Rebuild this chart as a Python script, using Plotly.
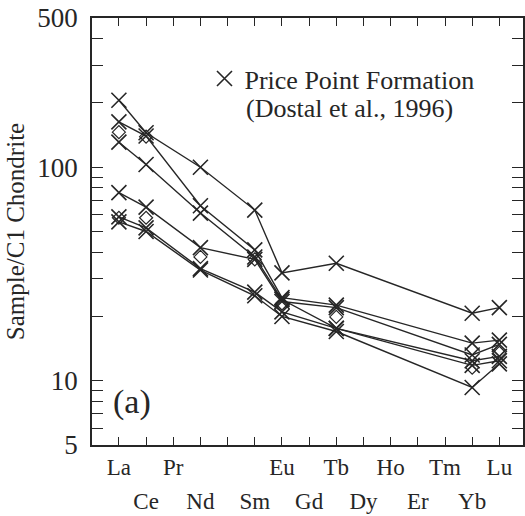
import plotly.graph_objects as go

# --- data ---------------------------------------------------------------
ELEMENTS = ["La", "Ce", "Pr", "Nd", "Pm", "Sm", "Eu", "Gd", "Tb", "Dy", "Ho", "Er", "Tm", "Yb", "Lu"]
TOP_ROW = ["La", "", "Pr", "", "", "", "Eu", "", "Tb", "", "Ho", "", "Tm", "", "Lu"]
BOTTOM_ROW = ["", "Ce", "", "Nd", "", "Sm", "", "Gd", "", "Dy", "", "Er", "", "Yb", ""]
MEASURED = ["La", "Ce", "Nd", "Sm", "Eu", "Tb", "Yb", "Lu"]

sample_1 = [206, 145, 100, 63, 32, 35.5, 20.7, 22.0]
sample_2 = [163, 140, 66, 41, 24.5, 22.6, 15.0, 15.5]
sample_3 = [131, 103, 61, 38, 24.0, 17.6, 12.4, 13.0]
sample_4 = [76, 65, 42, 37, 23.5, 22.0, 13.2, 14.8]
sample_5 = [58.5, 52, 33.5, 26, 21.0, 17.6, 11.8, 12.4]
sample_6 = [55.5, 50, 33.0, 25, 20.0, 17.0, 9.3, 12.0]
SAMPLES = [sample_1, sample_2, sample_3, sample_4, sample_5, sample_6]

diamonds_a = [146, 139, None, None, None, None, None, None]
diamonds_b = [58, 58, 38, 37, 23, 19.9, 11.5, 13.5]

Y_TICKS = [5, 10, 100, 500]
Y_MINOR = [6, 7, 8, 9, 20, 30, 40, 50, 60, 70, 80, 90, 200, 300, 400]

# --- figure -------------------------------------------------------------
INK = "#262626"
SERIF = "Liberation Serif"
xpos = [ELEMENTS.index(e) for e in MEASURED]
idx = list(range(len(ELEMENTS)))

fig = go.Figure()
for s in SAMPLES:
    fig.add_trace(go.Scatter(
        x=xpos, y=s, mode="lines+markers", showlegend=False,
        line=dict(color=INK, width=1.4),
        marker=dict(symbol="x-thin-open", size=15, color=INK, line=dict(color=INK, width=1.6)),
    ))
for d in (diamonds_a, diamonds_b):
    fig.add_trace(go.Scatter(
        x=xpos, y=d, mode="markers", showlegend=False, xaxis="x2", yaxis="y",
        marker=dict(symbol="diamond-open", size=10, color=INK, line=dict(color=INK, width=1.2)),
    ))
# legend key
fig.add_trace(go.Scatter(
    x=[None], y=[None], mode="markers", name="Price Point Formation",
    marker=dict(symbol="x-thin-open", size=15, color=INK, line=dict(color=INK, width=1.6)),
))

XR = [-0.99, 14.87]
fig.update_layout(
    width=525, height=516,
    margin=dict(l=92, r=0, t=18, b=71),
    paper_bgcolor="white", plot_bgcolor="white",
    font=dict(family=SERIF, color=INK),
    showlegend=True,
    legend=dict(x=0.261, y=0.913, xanchor="left", yanchor="top",
                bgcolor="rgba(0,0,0,0)", borderwidth=0,
                font=dict(family=SERIF, size=26, color=INK)),
    xaxis=dict(
        range=XR, tickmode="array", tickvals=idx, ticktext=TOP_ROW,
        ticks="inside", ticklen=8, tickwidth=1.3, tickcolor=INK,
        showline=True, linecolor=INK, linewidth=1.5, mirror="ticks",
        showgrid=False, zeroline=False,
        tickfont=dict(family=SERIF, size=23, color=INK), ticklabelstandoff=1,
    ),
    xaxis2=dict(
        range=XR, overlaying="x", anchor="y", side="bottom",
        tickmode="array", tickvals=idx, ticktext=BOTTOM_ROW,
        ticks="", showline=False, showgrid=False, zeroline=False,
        tickfont=dict(family=SERIF, size=23, color=INK), ticklabelstandoff=40,
    ),
    yaxis=dict(
        type="log", range=[0.69897, 2.69897],
        tickmode="array", tickvals=Y_TICKS, ticktext=[str(v) for v in Y_TICKS],
        ticks="inside", ticklen=11, tickwidth=1.3, tickcolor=INK,
        minor=dict(tickvals=Y_MINOR, ticks="inside", ticklen=6, tickwidth=1.2, tickcolor=INK, showgrid=False),
        showline=True, linecolor=INK, linewidth=1.5, mirror="allticks",
        showgrid=False, zeroline=False,
        tickfont=dict(family=SERIF, size=27, color=INK), ticklabelstandoff=7,
        title=dict(text="Sample/C1 Chondrite", font=dict(family=SERIF, size=25, color=INK), standoff=6),
    ),
    annotations=[
        dict(text="(Dostal et al., 1996)", xref="paper", yref="paper", x=0.353, y=0.787,
             xanchor="left", yanchor="middle", showarrow=False,
             font=dict(family=SERIF, size=26, color=INK)),
        dict(text="(a)", xref="paper", yref="paper", x=0.0924, y=0.1007,
             xanchor="center", yanchor="middle", showarrow=False,
             font=dict(family=SERIF, size=34, color=INK)),
    ],
)

fig.write_html("out.html")
